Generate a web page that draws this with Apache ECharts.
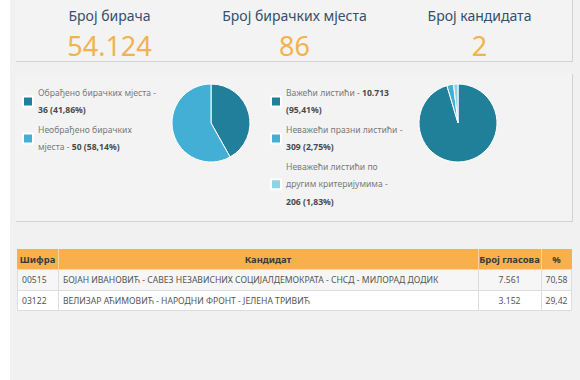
<!DOCTYPE html>
<html>
<head>
<meta charset="utf-8">
<script src="https://cdn.jsdelivr.net/npm/echarts@6/dist/echarts.min.js"></script>
<style>
html, body { margin: 0; padding: 0; background: #fff; }
#main { width: 580px; height: 380px; }
</style>
</head>
<body>
<div id="main"></div>
<script>
// подаци
var statLabels = ['Број бирача', 'Број бирачких мјеста', 'Број кандидата'];
var statValues = [54124, 86, 2];

var stationNames = ['Обрађено бирачких мјеста', 'Необрађено бирачких мјеста'];
var stationValues = [36, 50];

var ballotNames = ['Важећи листићи', 'Неважећи празни листићи', 'Неважећи листићи по другим критеријумима'];
var ballotValues = [10713, 309, 206];

var tableHeads = ['Шифра', 'Кандидат', 'Број гласова', '%'];
var candCodes = ['00515', '03122'];
var candNames = ['БОЈАН ИВАНОВИЋ - САВЕЗ НЕЗАВИСНИХ СОЦИЈАЛДЕМОКРАТА - СНСД - МИЛОРАД ДОДИК',
                 'ВЕЛИЗАР АЋИМОВИЋ - НАРОДНИ ФРОНТ - ЈЕЛЕНА ТРИВИЋ'];
var candVotes = [7561, 3152];

var FONT = 'Noto Sans';
var LEG_FS = 8.6;
var stationColors = ['#217f9c', '#44afd5'];
var ballotColors = ['#207f99', '#44afd5', '#8fd4e6'];

function fmtInt(n) {
    return String(n).replace(/\B(?=(\d{3})+(?!\d))/g, '.');
}
function fmtPct(v, arr) {
    var sum = 0;
    for (var i = 0; i < arr.length; i++) sum += arr[i];
    return (v / sum * 100).toFixed(2).replace('.', ',');
}

// прелом текста легенде по ширини
var ctx = document.createElement('canvas').getContext('2d');
function textW(s, bold) {
    ctx.font = (bold ? 'bold ' : '') + LEG_FS + 'px "' + FONT + '"';
    return ctx.measureText(s).width;
}
function wrapRich(parts, maxW) {
    var words = [];
    parts.forEach(function (p) {
        p.t.split(' ').forEach(function (w) { words.push({t: w, b: p.b}); });
    });
    var lines = [[]], cur = 0;
    words.forEach(function (w) {
        var add = (lines[lines.length - 1].length ? textW(' ', false) : 0) + textW(w.t, w.b);
        if (lines[lines.length - 1].length && cur + add > maxW) {
            lines.push([]);
            cur = textW(w.t, w.b);
        } else {
            cur += add;
        }
        lines[lines.length - 1].push(w);
    });
    return lines.map(function (line) {
        var out = '', i = 0;
        while (i < line.length) {
            var b = line[i].b, seg = [];
            while (i < line.length && line[i].b === b) { seg.push(line[i].t); i++; }
            var s = seg.join(' ');
            if (out) s = ' ' + s;
            out += b ? '{b|' + s + '}' : s;
        }
        return out;
    }).join('\n');
}

var g = [];
// позадина
g.push({type: 'rect', z: 0, shape: {x: 10, y: 0, width: 570, height: 380}, style: {fill: '#f1f1f1'}});
function box(x, y, w, h) {
    g.push({type: 'rect', z: 0, shape: {x: x + 1, y: y + 1, width: w, height: h}, style: {fill: '#d2d2d2'}});
    g.push({type: 'rect', z: 0, shape: {x: x, y: y, width: w, height: h}, style: {fill: '#f3f3f3'}});
}
box(15, -1, 557, 62);
box(15, 73, 557, 148);

// заглавље
for (var i = 0; i < statLabels.length; i++) {
    var cx = 17 + 185 * (i + 0.5);
    g.push({type: 'text', z: 1, x: cx, y: 15, style: {text: statLabels[i], fontFamily: FONT, fontSize: 14,
        fill: '#33506d', align: 'center', verticalAlign: 'middle'}});
    g.push({type: 'text', z: 1, x: cx, y: 45, style: {text: fmtInt(statValues[i]), fontFamily: FONT, fontSize: 27,
        fill: '#f2b24f', align: 'center', verticalAlign: 'middle'}});
}

// табела
var colX = [17, 58, 478, 541, 572];
var headTop = 249, headH = 20, rowH = 21;
g.push({type: 'rect', z: 0, shape: {x: colX[0], y: headTop, width: colX[4] - colX[0], height: headH}, style: {fill: '#f7b04c'}});
for (var c = 0; c < tableHeads.length; c++) {
    g.push({type: 'text', z: 1, x: (colX[c] + colX[c + 1]) / 2, y: headTop + headH / 2,
        style: {text: tableHeads[c], fontFamily: FONT, fontSize: 9.4, fontWeight: 'bold', fill: '#3a3a3a',
            align: 'center', verticalAlign: 'middle'}});
    if (c > 0) {
        g.push({type: 'line', z: 1, shape: {x1: colX[c] + 0.5, y1: headTop, x2: colX[c] + 0.5, y2: headTop + headH},
            style: {stroke: 'rgba(255,255,255,0.45)', lineWidth: 1}});
    }
}
var bodyTop = headTop + headH;
for (var r = 0; r < candCodes.length; r++) {
    var ry = bodyTop + r * rowH;
    var cy = ry + rowH / 2;
    g.push({type: 'rect', z: 0, shape: {x: colX[0], y: ry, width: colX[4] - colX[0], height: rowH},
        style: {fill: r % 2 === 0 ? '#f6f6f6' : '#ffffff'}});
    var cells = [candCodes[r], candNames[r], fmtInt(candVotes[r]), fmtPct(candVotes[r], candVotes)];
    for (var c = 0; c < cells.length; c++) {
        var left = c < 2;
        g.push({type: 'text', z: 1, x: left ? colX[c] + 5 : (colX[c] + colX[c + 1]) / 2, y: cy,
            style: {text: cells[c], fontFamily: FONT, fontSize: 8.6, fill: '#555',
                align: left ? 'left' : 'center', verticalAlign: 'middle'}});
    }
    if (r > 0) {
        g.push({type: 'line', z: 1, shape: {x1: colX[0], y1: ry + 0.5, x2: colX[4], y2: ry + 0.5},
            style: {stroke: '#dddddd', lineWidth: 1}});
    }
}
var bodyBottom = bodyTop + rowH * candCodes.length;
for (var c = 1; c < 4; c++) {
    g.push({type: 'line', z: 1, shape: {x1: colX[c] + 0.5, y1: bodyTop, x2: colX[c] + 0.5, y2: bodyBottom},
        style: {stroke: '#dddddd', lineWidth: 1}});
}
g.push({type: 'rect', z: 1, shape: {x: colX[0] + 0.5, y: bodyTop + 0.5, width: colX[4] - colX[0] - 1, height: bodyBottom - bodyTop - 1},
    style: {fill: 'none', stroke: '#dddddd', lineWidth: 1}});

function legendFmt(names, values, maxW) {
    return function (name) {
        var i = names.indexOf(name);
        return wrapRich([
            {t: name + ' -', b: false},
            {t: fmtInt(values[i]) + ' (' + fmtPct(values[i], values) + '%)', b: true}
        ], maxW);
    };
}
function legendOpt(names, values, left, maxW) {
    return {
        data: names,
        left: left,
        top: 84,
        orient: 'vertical',
        padding: 0,
        itemGap: 2,
        itemWidth: 10,
        itemHeight: 10,
        icon: 'rect',
        selectedMode: false,
        formatter: legendFmt(names, values, maxW),
        textStyle: {
            fontFamily: FONT, fontSize: LEG_FS, color: '#7a7a7a', lineHeight: 17.5,
            rich: {b: {fontFamily: FONT, fontSize: LEG_FS, fontWeight: 'bold', color: '#4a4a4a', lineHeight: 17.5}}
        }
    };
}
function pieData(names, values, colors) {
    var out = [];
    for (var i = 0; i < names.length; i++) {
        out.push({name: names[i], value: values[i], itemStyle: {color: colors[i]}});
    }
    return out;
}
function pieOpt(names, values, colors, cx) {
    return {
        type: 'pie',
        center: [cx, 123],
        radius: 39,
        startAngle: 90,
        clockwise: true,
        silent: true,
        label: {show: false},
        labelLine: {show: false},
        itemStyle: {borderColor: '#ffffff', borderWidth: 1},
        data: pieData(names, values, colors)
    };
}

var chart = echarts.init(document.getElementById('main'), null, {renderer: 'svg'});
chart.setOption({
    animation: false,
    graphic: g,
    legend: [
        legendOpt(stationNames, stationValues, 22, 118),
        legendOpt(ballotNames, ballotValues, 270, 118)
    ],
    series: [
        pieOpt(stationNames, stationValues, stationColors, 211),
        pieOpt(ballotNames, ballotValues, ballotColors, 458)
    ]
});
</script>
</body>
</html>
